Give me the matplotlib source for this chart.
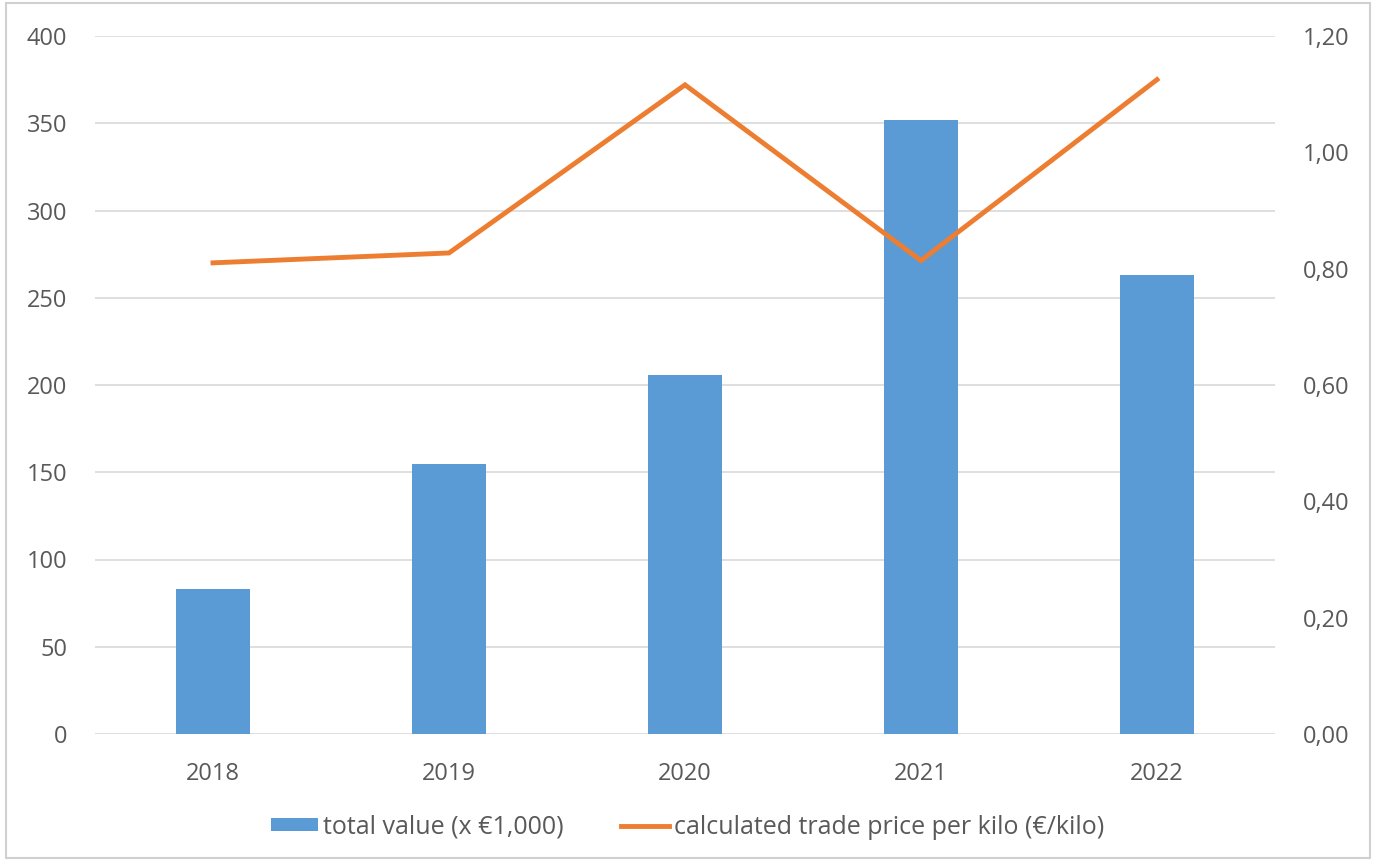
import matplotlib.pyplot as plt
import numpy as np
from matplotlib.patches import Rectangle

plt.rcParams["font.family"] = ["Open Sans", "DejaVu Sans"]

# data
years = ["2018", "2019", "2020", "2021", "2022"]
total_value = [83, 155, 206, 352, 263]           # x EUR 1,000
trade_price = [0.81, 0.827, 1.116, 0.814, 1.125]  # EUR/kilo

left_ticks = [0, 50, 100, 150, 200, 250, 300, 350, 400]
right_ticks = [0.0, 0.2, 0.4, 0.6, 0.8, 1.0, 1.2]

bar_color = "#5B9BD5"
line_color = "#ED7D31"
text_color = "#595959"
grid_color = "#D9D9D9"

fig = plt.figure(figsize=(13.75, 8.61), dpi=100)
ax = fig.add_axes([95 / 1375, 1 - 734 / 861, 1180 / 1375, 698 / 861])

x = np.arange(len(years))
ax.bar(x, total_value, width=0.31, color=bar_color, zorder=2,
       label="total value (x \u20ac1,000)")
ax.set_xlim(-0.5, len(years) - 0.5)
ax.set_ylim(0, 400)
ax.set_yticks(left_ticks)
ax.set_xticks(x)
ax.set_xticklabels(years)
ax.grid(axis="y", color=grid_color, linewidth=1.2, zorder=0)
ax.set_axisbelow(True)
for s in ax.spines.values():
    s.set_visible(False)
ax.tick_params(length=0, labelsize=17, colors=text_color)
ax.tick_params(axis="x", pad=20)
ax.tick_params(axis="y", pad=20)

ax2 = ax.twinx()
ax2.plot(x, trade_price, color=line_color, linewidth=3.5, zorder=3,
         solid_joinstyle="miter", label="calculated trade price per kilo (\u20ac/kilo)")
ax2.set_ylim(0, 1.2)
ax2.set_yticks(right_ticks)
ax2.set_yticklabels([f"{v:.2f}".replace(".", ",") for v in right_ticks])
for s in ax2.spines.values():
    s.set_visible(False)
ax2.tick_params(length=0, labelsize=17, colors=text_color, pad=20)

h1, l1 = ax.get_legend_handles_labels()
h2, l2 = ax2.get_legend_handles_labels()
fig.legend(h1 + h2, l1 + l2, loc="center", bbox_to_anchor=(0.5, 1 - 827 / 861),
           ncol=2, frameon=False, fontsize=18, labelcolor=text_color,
           handlelength=1.9, handleheight=0.4, columnspacing=2.3, handletextpad=0.2)

# light chart-area border
fig.patches.append(Rectangle((0.004, 0.004), 0.992, 0.992, transform=fig.transFigure,
                             fill=False, edgecolor="#D0D0D0", linewidth=1.5))

fig.savefig("out.png", dpi=100)
